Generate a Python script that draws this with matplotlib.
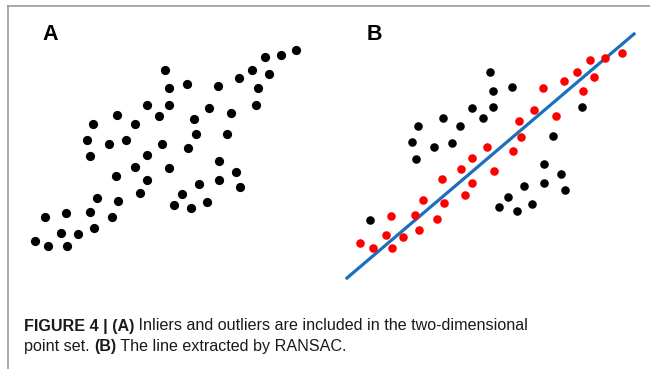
import matplotlib.pyplot as plt

# panel A: all points (pixel-like coordinates, y downwards)
a_x = [296, 281, 265, 252, 269, 239, 258, 256, 218, 231, 227, 209, 194, 196, 188, 187,
       165, 169, 169, 147, 159, 162, 147, 169, 135, 147, 140, 117, 135, 93, 87, 109,
       126, 90, 116, 97, 118, 90, 112, 94, 78, 66, 61, 45, 35, 48, 67, 219, 236, 240,
       219, 199, 182, 174, 191, 207]
a_y = [50, 55, 57, 70, 74, 78, 88, 105, 86, 113, 134, 108, 119, 134, 148, 84,
       70, 88, 105, 105, 116, 144, 155, 168, 167, 180, 193, 115, 124, 124, 140, 144,
       140, 156, 176, 198, 201, 212, 217, 228, 234, 213, 233, 217, 241, 246, 246, 161, 172, 187,
       180, 184, 194, 205, 208, 202]

# panel B: inliers (red)
in_x = [622, 605, 590, 577, 594, 564, 583, 543, 534, 556, 519, 521, 513, 487, 472, 461,
        494, 472, 442, 465, 444, 423, 437, 415, 391, 419, 403, 386, 392, 373, 360]
in_y = [53, 58, 60, 72, 77, 81, 91, 88, 110, 116, 121, 137, 151, 147, 158, 169,
        171, 183, 179, 195, 203, 200, 219, 215, 216, 230, 237, 235, 248, 248, 243]

# panel B: outliers (black)
out_x = [490, 493, 512, 493, 472, 483, 460, 443, 418, 412, 434, 452, 416, 582, 553, 544,
         561, 565, 544, 524, 508, 499, 517, 532, 370]
out_y = [72, 91, 87, 107, 108, 118, 126, 118, 126, 142, 147, 143, 159, 107, 136, 164,
         174, 190, 183, 186, 197, 207, 211, 204, 220]

# fitted RANSAC line
line_x = [347, 634]
line_y = [278, 34]

fig = plt.figure(figsize=(6.5, 3.69), dpi=100)
ax = fig.add_axes([0, 0, 1, 1])
ax.set_xlim(0, 650)
ax.set_ylim(369, 0)
ax.axis('off')

# frame lines
ax.plot([8, 650], [6, 6], color='#9a9a9a', lw=1.2)
ax.plot([8, 8], [6, 369], color='#9a9a9a', lw=1.2)

ax.scatter(a_x, a_y, s=44, color='black', linewidths=0)
ax.plot(line_x, line_y, color='#1b6fbf', lw=2.3, zorder=1)
ax.scatter(in_x, in_y, s=38, color='#ff0000', linewidths=0, zorder=2)
ax.scatter(out_x, out_y, s=38, color='black', linewidths=0, zorder=2)

lab_fam = ['Liberation Sans', 'DejaVu Sans']
ax.text(50, 34, 'A', fontsize=15.5, fontweight='bold', ha='center', va='center', family=lab_fam)
ax.text(374, 34, 'B', fontsize=15.5, fontweight='bold', ha='center', va='center', family=lab_fam)

fam = ['Liberation Sans', 'DejaVu Sans']
fs = 11.6


def caption_line(x, y, parts):
    # caption built from bold and regular pieces
    r = fig.canvas.get_renderer()
    for txt, bold in parts:
        t = ax.text(x, y, txt, fontsize=fs, va='center', ha='left', family=fam,
                    fontweight='bold' if bold else 'normal', color='#1a1a1a')
        bb = t.get_window_extent(renderer=r)
        x = x + bb.width
    return x


caption_line(24, 326, [('FIGURE 4 | (A)', True),
                       (' Inliers and outliers are included in the two-dimensional', False)])
caption_line(24, 346, [('point set. ', False), ('(B)', True),
                       (' The line extracted by RANSAC.', False)])

fig.savefig('out.png', dpi=100)
